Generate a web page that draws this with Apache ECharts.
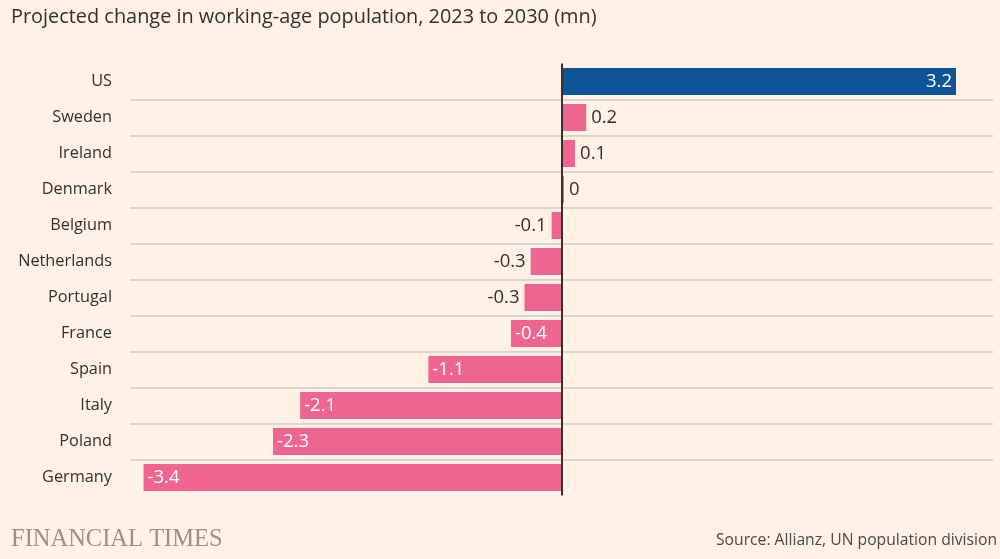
<!DOCTYPE html>
<html>
<head>
<meta charset="utf-8">
<script src="https://cdn.jsdelivr.net/npm/echarts@6/dist/echarts.min.js"></script>
<style>
  html, body { margin: 0; padding: 0; background: #FFF1E5; }
  #chart { width: 1000px; height: 559px; }
</style>
</head>
<body>
<div id="chart"></div>
<script>
const categories = ['US', 'Sweden', 'Ireland', 'Denmark', 'Belgium', 'Netherlands', 'Portugal', 'France', 'Spain', 'Italy', 'Poland', 'Germany'];
const values = [3.2, 0.2, 0.11, 0.02, -0.08, -0.25, -0.3, -0.41, -1.08, -2.12, -2.34, -3.39];
const valueLabels = ['3.2', '0.2', '0.1', '0', '-0.1', '-0.3', '-0.3', '-0.4', '-1.1', '-2.1', '-2.3', '-3.4'];
const highlight = ['US'];

const PINK = '#EE6690';
const BLUE = '#0F5499';
const TEXT = '#33302E';

const seriesData = values.map(function (v, i) {
  const inside = Math.abs(v) >= 0.35;
  let position;
  if (v >= 0) position = inside ? 'insideRight' : 'right';
  else position = inside ? 'insideLeft' : 'left';
  return {
    value: v,
    itemStyle: { color: highlight.indexOf(categories[i]) >= 0 ? BLUE : PINK },
    label: {
      position: position,
      color: inside ? '#FFFFFF' : TEXT,
      distance: inside ? 4 : 5
    }
  };
});

const chart = echarts.init(document.getElementById('chart'), null, { renderer: 'canvas' });
chart.setOption({
  backgroundColor: '#FFF1E5',
  animation: false,
  textStyle: { fontFamily: 'Open Sans' },
  grid: { left: 130, right: 7, top: 63.5, bottom: 63.5, containLabel: false },
  xAxis: {
    type: 'value',
    min: -3.5,
    max: 3.5,
    show: false
  },
  yAxis: {
    type: 'category',
    inverse: true,
    data: categories,
    axisLine: { show: false },
    axisTick: { show: false },
    axisLabel: { color: TEXT, fontSize: 16.3, margin: 18, fontFamily: 'Open Sans', padding: [5, 0, 0, 0] },
    splitLine: {
      show: true,
      showMinLine: false,
      showMaxLine: false,
      lineStyle: { color: '#D6CABF', width: 1.5 }
    }
  },
  series: [{
    type: 'bar',
    data: seriesData,
    barWidth: 27,
    label: {
      show: true,
      fontSize: 18.5,
      fontFamily: 'Open Sans',
      padding: [4, 0, 0, 0],
      formatter: function (p) { return valueLabels[p.dataIndex]; }
    },
    markLine: {
      silent: true,
      symbol: 'none',
      label: { show: false },
      lineStyle: { color: TEXT, width: 2, type: 'solid' },
      data: [{ xAxis: 0 }],
      z: 10
    }
  }],
  graphic: [
    {
      type: 'text', left: 11, top: 7,
      style: { text: 'Projected change in working-age population, 2023 to 2030 (mn)', fill: TEXT, font: '19.9px "Open Sans"' }
    },
    {
      type: 'text', left: 11, top: 527,
      style: { text: 'FINANCIAL TIMES', fill: '#9A918A', font: '24.5px "Liberation Serif"' }
    },
    {
      type: 'text', right: 3, top: 533,
      style: { text: 'Source: Allianz, UN population division', fill: '#4D4845', font: '15.7px "Open Sans"' }
    }
  ]
});
</script>
</body>
</html>
